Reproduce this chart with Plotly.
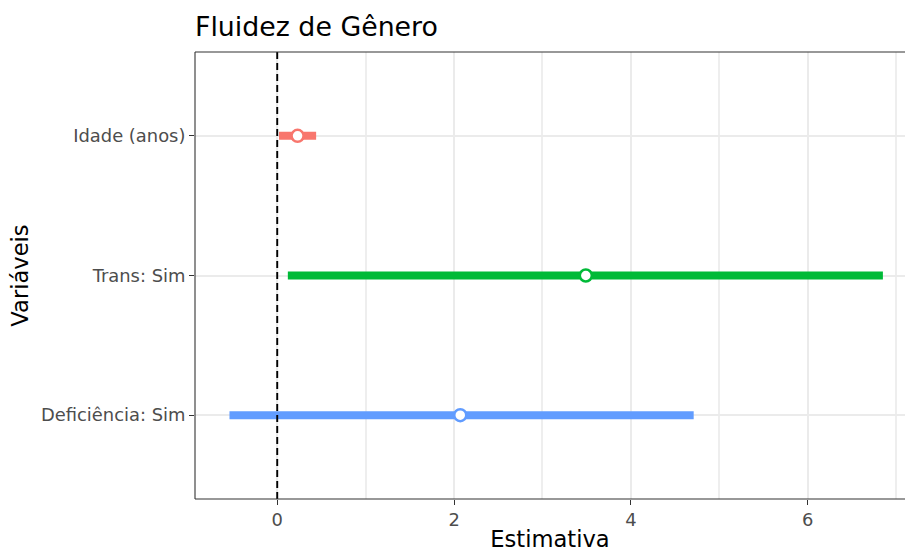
import plotly.graph_objects as go

# Coefficient estimates with 95% intervals
variaveis = ["Idade (anos)", "Trans: Sim", "Deficiência: Sim"]
estimativas = [0.23, 3.49, 2.07]
limite_inf = [0.02, 0.12, -0.54]
limite_sup = [0.44, 6.85, 4.71]
cores = ["#F8766D", "#00BA38", "#619CFF"]
ordem_eixo = ["Deficiência: Sim", "Trans: Sim", "Idade (anos)"]

fig = go.Figure()

for nome, est, lo, hi, cor in zip(variaveis, estimativas, limite_inf, limite_sup, cores):
    fig.add_trace(go.Scatter(
        x=[lo, hi], y=[nome, nome], mode="lines",
        line=dict(color=cor, width=8), showlegend=False, hoverinfo="skip",
    ))
    fig.add_trace(go.Scatter(
        x=[est], y=[nome], mode="markers",
        marker=dict(size=12, color="white", line=dict(color=cor, width=2.5)),
        showlegend=False,
    ))

# Reference line at zero
fig.add_shape(type="line", xref="x", yref="paper", x0=0, x1=0, y0=0, y1=1,
              line=dict(color="black", width=1.9, dash="7px,4px"), layer="above")

# Panel border (left, top, bottom)
for x0, y0, x1, y1 in [(0, 0, 0, 1), (0, 1, 1.2, 1), (0, 0, 1.2, 0)]:
    fig.add_shape(type="line", xref="paper", yref="paper", x0=x0, y0=y0, x1=x1, y1=y1,
                  line=dict(color="#333333", width=1.1), layer="above")

fig.update_layout(
    width=905, height=552,
    margin=dict(l=195, r=0, t=52, b=53),
    plot_bgcolor="white", paper_bgcolor="white",
    font=dict(family="DejaVu Sans", color="black"),
    title=dict(text="Fluidez de Gênero", x=0, xref="paper", xanchor="left",
               y=1 - 27 / 552, yref="container", yanchor="middle",
               font=dict(size=26.8, color="black")),
    xaxis=dict(
        range=[-0.93, 7.10], dtick=2, tick0=0,
        showgrid=True, gridcolor="#EBEBEB", gridwidth=2,
        minor=dict(dtick=1, showgrid=True, gridcolor="#EEEEEE", gridwidth=1.8),
        zeroline=False, showline=False,
        ticks="outside", ticklen=5, tickcolor="#333333", tickwidth=1.1,
        tickfont=dict(size=17.9, color="#4D4D4D"),
        title=dict(text="Estimativa", font=dict(size=22.6), standoff=1),
    ),
    yaxis=dict(
        type="category", categoryorder="array", categoryarray=ordem_eixo,
        range=[-0.6, 2.6],
        showgrid=True, gridcolor="#EBEBEB", gridwidth=2,
        zeroline=False, showline=False,
        ticks="outside", ticklen=5, tickcolor="#333333", tickwidth=1.1,
        tickfont=dict(size=17.9, color="#4D4D4D"),
        title=dict(text="Variáveis", font=dict(size=22.6), standoff=6),
    ),
)

fig.write_html("out.html")
